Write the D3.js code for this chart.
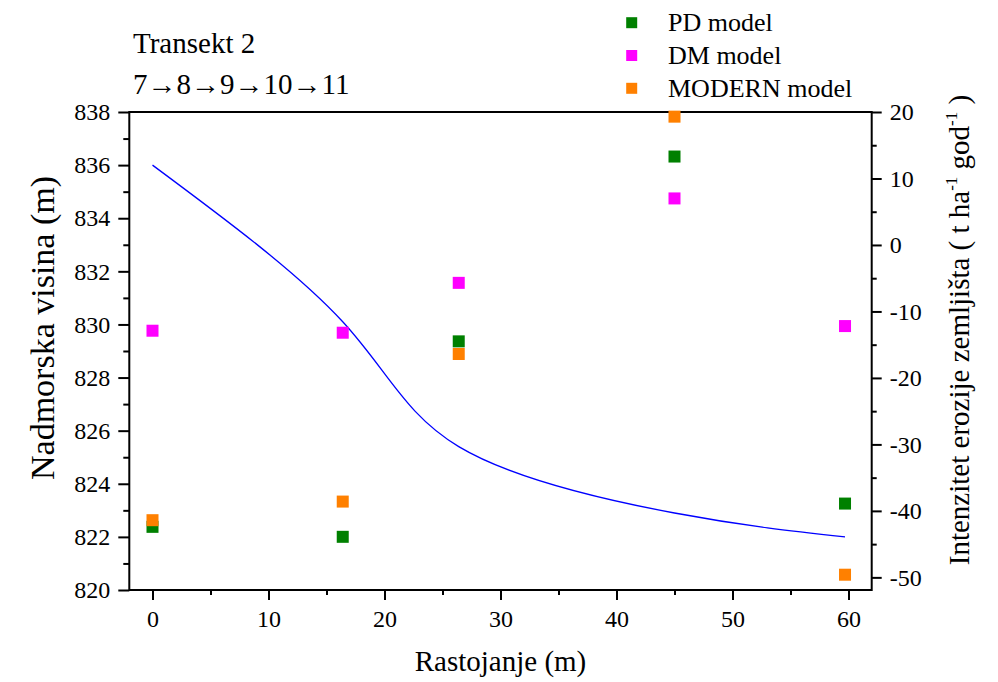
<!DOCTYPE html>
<html><head><meta charset="utf-8">
<script src="https://cdn.jsdelivr.net/npm/d3@7"></script>
<style>
html,body{margin:0;padding:0;background:#fff;}
text{font-family:"Liberation Serif","Times New Roman",serif;fill:#000;}
</style></head>
<body>
<svg id="c" width="998" height="682"></svg>
<script>
// ---- data ----
const pointX = [0, 16.4, 26.4, 45.0, 59.7];
const pdModel = [-42.4, -43.9, -14.5, 13.3, -38.9];
const dmModel = [-12.9, -13.2, -5.7, 7.0, -12.2];
const modernModel = [-41.4, -38.6, -16.4, 19.3, -49.6];
const profileX = [0, 16.4, 26.4, 45.0, 59.7];
const profileElev = [836.0, 830.1, 825.4, 822.9, 822.0];
const xTicks = [0, 10, 20, 30, 40, 50, 60];
const leftTicks = [820, 822, 824, 826, 828, 830, 832, 834, 836, 838];
const rightTicks = [20, 10, 0, -10, -20, -30, -40, -50];
const seriesNames = ["PD model", "DM model", "MODERN model"];
const seriesColors = ["#008000", "#ff00ff", "#ff8000"];

const svg = d3.select("#c");
const L = 129.3, R = 871.7, T = 112, B = 590;
const x = d3.scaleLinear().domain([-2, 62]).range([L, R]);
const yL = d3.scaleLinear().domain([820, 838]).range([B, T]);
const yR = d3.scaleLinear().domain([-51.9, 20]).range([B, T]);
const fmt = d => String(d);

// frame
svg.append("rect").attr("x", L).attr("y", T).attr("width", R - L).attr("height", B - T)
  .attr("fill", "none").attr("stroke", "#000").attr("stroke-width", 2);

function styleAxis(g, fs) {
  g.select(".domain").remove();
  g.selectAll("line").attr("stroke", "#000").attr("stroke-width", 2);
  g.selectAll("text").attr("font-size", fs).attr("font-family", "Liberation Serif");
}

// left axis
const gl = svg.append("g").attr("transform", `translate(${L},0)`)
  .call(d3.axisLeft(yL).tickValues(leftTicks).tickSize(11).tickPadding(8).tickFormat(fmt));
styleAxis(gl, 24);
const glm = svg.append("g").attr("transform", `translate(${L},0)`)
  .call(d3.axisLeft(yL).tickValues(leftTicks.slice(0, -1).map(v => v + 1)).tickSize(6).tickFormat(""));
styleAxis(glm, 24);

// right axis
const gr = svg.append("g").attr("transform", `translate(${R},0)`)
  .call(d3.axisRight(yR).tickValues(rightTicks).tickSize(10).tickPadding(8).tickFormat(fmt));
styleAxis(gr, 24);
const grm = svg.append("g").attr("transform", `translate(${R},0)`)
  .call(d3.axisRight(yR).tickValues(rightTicks.slice(0, -1).map(v => v - 5)).tickSize(5).tickFormat(""));
styleAxis(grm, 24);

// bottom axis
const gb = svg.append("g").attr("transform", `translate(0,${B})`)
  .call(d3.axisBottom(x).tickValues(xTicks).tickSize(10).tickFormat(fmt));
styleAxis(gb, 24);
gb.selectAll("text").attr("dy", null).attr("y", 37);
const gbm = svg.append("g").attr("transform", `translate(0,${B})`)
  .call(d3.axisBottom(x).tickValues(xTicks.slice(0, -1).map(v => v + 5)).tickSize(5).tickFormat(""));
styleAxis(gbm, 24);

// profile line
svg.append("path").datum(profileX.map((v, i) => [v, profileElev[i]]))
  .attr("d", d3.line().x(d => x(d[0])).y(d => yL(d[1])).curve(d3.curveNatural))
  .attr("fill", "none").attr("stroke", "#0000ff").attr("stroke-width", 1.3);

// scatter points
const allSeries = [pdModel, dmModel, modernModel];
const ms = 12;
allSeries.forEach((vals, si) => {
  svg.append("g").selectAll("rect").data(vals).join("rect")
    .attr("x", (d, i) => x(pointX[i]) - ms / 2)
    .attr("y", d => yR(d) - ms / 2)
    .attr("width", ms).attr("height", ms)
    .attr("fill", seriesColors[si]);
});

// legend
const legY = [22.7, 55.5, 88.3];
seriesNames.forEach((n, i) => {
  svg.append("rect").attr("x", 631.7 - 5.5).attr("y", legY[i] - 5.5).attr("width", 11).attr("height", 11)
    .attr("fill", seriesColors[i]);
  svg.append("text").attr("x", 668).attr("y", legY[i] + 8.5).attr("font-size", 26).text(n);
});

// title
svg.append("text").attr("x", 133).attr("y", 53).attr("font-size", 29).text("Transekt 2");
svg.append("text").attr("x", 133).attr("y", 94).attr("font-size", 29).text("7→8→9→10→11");

// axis titles
svg.append("text").attr("x", (L + R) / 2).attr("y", 671).attr("text-anchor", "middle")
  .attr("font-size", 29).text("Rastojanje (m)");
svg.append("text").attr("transform", "translate(54,328) rotate(-90)").attr("text-anchor", "middle")
  .attr("font-size", 34).text("Nadmorska visina (m)");
const rt = svg.append("text").attr("transform", "translate(969,330) rotate(-90)").attr("text-anchor", "middle")
  .attr("font-size", 29);
rt.append("tspan").text("Intenzitet erozije zemljišta ( t ha");
rt.append("tspan").attr("font-size", 17).attr("dy", -12).text("-1");
rt.append("tspan").attr("dy", 12).text(" god");
rt.append("tspan").attr("font-size", 17).attr("dy", -12).text("-1");
rt.append("tspan").attr("dy", 12).text(" )");
</script>
</body></html>
